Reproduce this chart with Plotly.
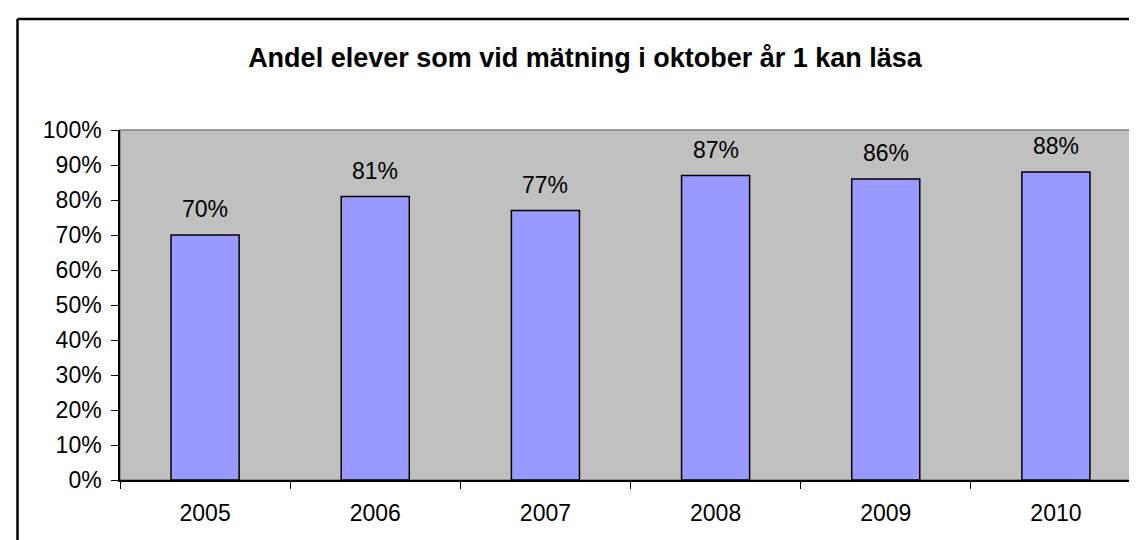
import plotly.graph_objects as go

years = ["2005", "2006", "2007", "2008", "2009", "2010"]
andel = [70, 81, 77, 87, 86, 88]
y_ticks = [0, 10, 20, 30, 40, 50, 60, 70, 80, 90, 100]
y_tick_labels = [f"{v}%" for v in y_ticks]

W, H = 1137, 540
L, R, T, B = 112, 4, 122, 68
plot_w = W - L - R
plot_h = H - T - B

font = "Liberation Sans, Arial, sans-serif"
fs = 23

fig = go.Figure()

fig.add_trace(go.Bar(
    x=years,
    y=andel,
    marker=dict(color="#9999FF", line=dict(color="black", width=1.5)),
    showlegend=False,
    hoverinfo="x+y",
))

# value labels above bars (x by category index so "2005" isn't read as a number)
for i, v in enumerate(andel):
    fig.add_annotation(
        x=i, y=v, text=f"{v}%", showarrow=False,
        yanchor="middle", yshift=26,
        font=dict(family=font, size=fs, color="black"),
    )

# plot area border (grey), axes lines drawn black on top
fig.add_shape(type="rect", xref="paper", yref="paper", x0=0, y0=0, x1=1, y1=1,
              line=dict(color="#808080", width=1.5), layer="below")

# outer chart border (only left/top visible in the picture)
bx = (9.5 - L) / plot_w
by = (H - B - 11) / plot_h
fig.add_shape(type="line", xref="paper", yref="paper", x0=bx, x1=bx, y0=-0.5, y1=by,
              line=dict(color="black", width=2.5))
fig.add_shape(type="line", xref="paper", yref="paper", x0=bx, x1=1.2, y0=by, y1=by,
              line=dict(color="black", width=2.5))

fig.update_layout(
    width=W, height=H,
    margin=dict(l=L, r=R, t=T, b=B),
    paper_bgcolor="white",
    plot_bgcolor="#C0C0C0",
    bargap=0.6,
    font=dict(family=font, size=fs, color="black"),
    title=dict(
        text="<b>Andel elever som vid mätning i oktober år 1 kan läsa</b>",
        x=577 / W, xanchor="center", xref="container",
        y=1 - 50 / H, yanchor="middle", yref="container",
        font=dict(family=font, size=27, color="black"),
    ),
)

fig.update_xaxes(
    type="category",
    range=[-0.5, len(years) - 0.5],
    automargin=False,
    showline=True, linecolor="black", linewidth=1.5,
    ticks="outside", tickson="boundaries", ticklen=7, tickcolor="black",
    showgrid=False,
    tickangle=0,
    tickfont=dict(family=font, size=fs),
    ticklabelstandoff=12,
)
fig.update_yaxes(
    range=[0, 100],
    automargin=False,
    tickvals=y_ticks, ticktext=y_tick_labels,
    showline=True, linecolor="black", linewidth=1.5,
    ticks="outside", ticklen=7, tickcolor="black",
    showgrid=False, zeroline=False,
    tickfont=dict(family=font, size=fs),
    ticklabelstandoff=5,
)

fig.write_html("out.html")
